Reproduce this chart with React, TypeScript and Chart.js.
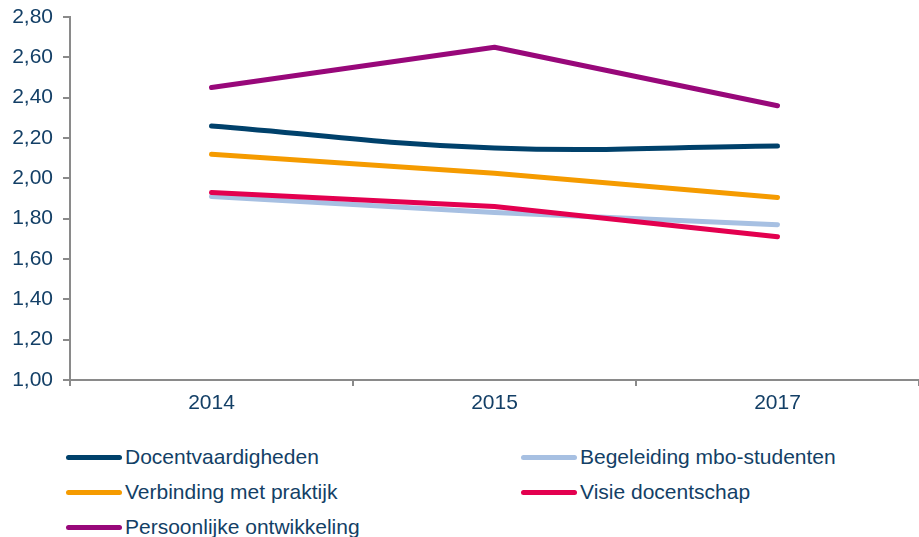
import React, { useEffect, useRef } from "react";
import { Chart, registerables } from "chart.js";

Chart.register(...registerables);

const categories = ["2014", "2015", "2017"];
const seriesNames = [
  "Docentvaardigheden",
  "Begeleiding mbo-studenten",
  "Verbinding met praktijk",
  "Visie docentschap",
  "Persoonlijke ontwikkeling",
];
const docentvaardigheden = [2.26, 2.15, 2.16];
const begeleiding = [1.91, 1.83, 1.77];
const verbinding = [2.12, 2.025, 1.905];
const visie = [1.93, 1.86, 1.71];
const persoonlijk = [2.45, 2.65, 2.36];
const seriesColors = ["#00416B", "#A7C0E2", "#F59B00", "#E3004F", "#98087A"];
const yMin = 1.0;
const yMax = 2.8;
const yStep = 0.2;

const FONT = "'Liberation Sans', Arial, sans-serif";
const TEXT = "#133F66";
const AXIS = "#8A8A8A";

export default function App() {
  const ref = useRef<HTMLCanvasElement | null>(null);

  useEffect(() => {
    if (!ref.current) return;
    const values = [docentvaardigheden, begeleiding, verbinding, visie, persoonlijk];
    const chart = new Chart(ref.current, {
      type: "line",
      data: {
        labels: categories,
        datasets: values.map((v, i) => ({
          label: seriesNames[i],
          data: v,
          borderColor: seriesColors[i],
          backgroundColor: seriesColors[i],
          borderWidth: 5,
          pointRadius: 0,
          borderCapStyle: "round" as const,
          borderJoinStyle: "round" as const,
          tension: i === 0 ? 0.4 : 0,
          order: i === 1 ? 10 : i,
        })),
      },
      options: {
        animation: false,
        responsive: false,
        maintainAspectRatio: false,
        layout: { padding: { top: 17, left: 0, right: 0, bottom: 0 } },
        plugins: { legend: { display: false }, tooltip: { enabled: false } },
        scales: {
          x: {
            offset: true,
            grid: {
              display: true,
              drawOnChartArea: false,
              offset: true,
              tickLength: 6,
              color: AXIS,
              lineWidth: 2,
            },
            border: { display: true, color: AXIS, width: 2 },
            ticks: { color: TEXT, font: { family: FONT, size: 21 }, padding: 5 },
            afterFit: (s: any) => {
              s.height = 40;
              s.paddingLeft = 0;
              s.paddingRight = 0;
            },
          },
          y: {
            min: yMin,
            max: yMax,
            grid: {
              display: true,
              drawOnChartArea: false,
              tickLength: 7,
              color: AXIS,
              lineWidth: 2,
            },
            border: { display: true, color: AXIS, width: 2 },
            ticks: {
              stepSize: yStep,
              color: TEXT,
              font: { family: FONT, size: 21 },
              padding: 10,
              callback: (v: any) => Number(v).toFixed(2).replace(".", ","),
            },
            afterFit: (s: any) => {
              s.width = 70;
              s.paddingTop = 0;
              s.paddingBottom = 0;
            },
          },
        },
      },
    });
    return () => chart.destroy();
  }, []);

  return (
    <div style={{ position: "absolute", left: 0, top: 0, width: 919, height: 537, background: "#fff" }}>
      <canvas ref={ref} width={919} height={420} style={{ display: "block", width: 919, height: 420 }} />
      {seriesNames.map((name, i) => {
        const col = i % 2;
        const row = Math.floor(i / 2);
        const x = col ? 521 : 66;
        const y = 457 + row * 35;
        return (
          <div
            key={name}
            style={{
              position: "absolute",
              left: x,
              top: y - 14,
              height: 28,
              display: "flex",
              alignItems: "center",
              whiteSpace: "nowrap",
            }}
          >
            <span
              style={{
                display: "inline-block",
                width: 56,
                height: 5,
                borderRadius: 3,
                background: seriesColors[i],
                marginRight: 3,
              }}
            />
            <span style={{ fontFamily: FONT, fontSize: 21, color: TEXT }}>{name}</span>
          </div>
        );
      })}
    </div>
  );
}
